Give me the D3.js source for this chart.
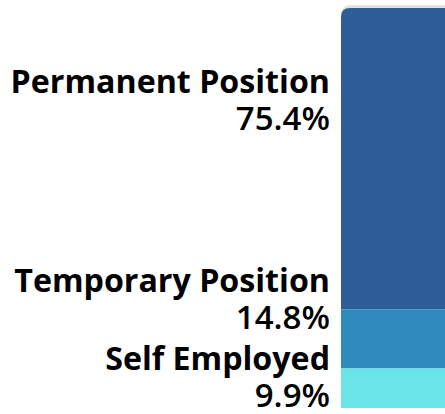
<!DOCTYPE html>
<html>
<head>
<meta charset="utf-8">
<script src="https://cdn.jsdelivr.net/npm/d3@7"></script>
<style>
  body { margin: 0; background: #fff; }
  svg { display: block; }
</style>
</head>
<body>
<div id="chart"></div>
<script>
// employment type shares (%)
var categories = ["Permanent Position", "Temporary Position", "Self Employed"];
var shares = [75.4, 14.8, 9.9];
var colors = ["#2d5e99", "#2e8bbb", "#69e5e8"];

var width = 445,
    height = 414;

var margin = { top: 8, right: 0, bottom: 6, left: 341 };

var svg = d3.select("#chart")
    .append("svg")
    .attr("width", width)
    .attr("height", height);

// stack the shares top to bottom
var stacked = [];
var acc = 0;
categories.forEach(function (c, i) {
    stacked.push({ name: c, value: shares[i], start: acc, end: acc + shares[i], color: colors[i] });
    acc += shares[i];
});

var y = d3.scaleLinear()
    .domain([0, d3.sum(shares)])
    .range([margin.top, height - margin.bottom]);

var barX = margin.left,
    barW = 120,
    r = 9;

// faint line behind the top of the bar
svg.append("rect")
    .attr("x", barX)
    .attr("y", y(0) - 3)
    .attr("width", barW)
    .attr("height", 20)
    .attr("rx", r)
    .style("fill", "#e2e2e2");

svg.append("g")
    .selectAll("path")
    .data(stacked)
    .enter()
    .append("path")
    .attr("d", function (d, i) {
        var y0 = y(d.start), y1 = y(d.end);
        if (i === 0) {
            return "M" + barX + "," + y1 +
                "V" + (y0 + r) +
                "Q" + barX + "," + y0 + " " + (barX + r) + "," + y0 +
                "H" + (barX + barW) +
                "V" + y1 + "Z";
        }
        return "M" + barX + "," + y0 + "H" + (barX + barW) + "V" + y1 + "H" + barX + "Z";
    })
    .style("fill", d => d.color);

// label layout: aim near the upper part of each segment, then push apart from the bottom
var blockH = 57, gap = 21;
var labelPos = stacked.map(function (d) {
    return { d: d, c: y(d.start + d.value * 0.31) };
});
var bottomLimit = y(d3.sum(shares)) - 1;
for (var i = labelPos.length - 1; i >= 0; i--) {
    var bottom = labelPos[i].c + blockH / 2;
    if (bottom > bottomLimit) labelPos[i].c = bottomLimit - blockH / 2;
    bottomLimit = labelPos[i].c - blockH / 2 - gap;
}

var labelRight = 330;

var labels = svg.append("g")
    .attr("font-family", "'Open Sans', 'Noto Sans', sans-serif")
    .attr("text-anchor", "end")
    .style("fill", "#000")
    .selectAll("g")
    .data(labelPos)
    .enter()
    .append("g")
    .attr("transform", d => "translate(" + labelRight + "," + (d.c - blockH / 2) + ")");

labels.append("text")
    .attr("class", "name")
    .attr("y", 20)
    .attr("font-size", "27px")
    .attr("font-weight", "700")
    .text(d => d.d.name);

labels.append("text")
    .attr("class", "pct")
    .attr("y", 57)
    .attr("font-size", "33px")
    .attr("font-weight", "600")
    .text(d => d.d.value.toFixed(1) + "%");

// stretch the names to the width seen in the reference layout
var widest = d3.max(svg.selectAll("text.name").nodes(), n => n.getComputedTextLength());
var k = 320 / widest;
svg.selectAll("text.name").attr("font-size", (27 * k).toFixed(1) + "px");
</script>
</body>
</html>
